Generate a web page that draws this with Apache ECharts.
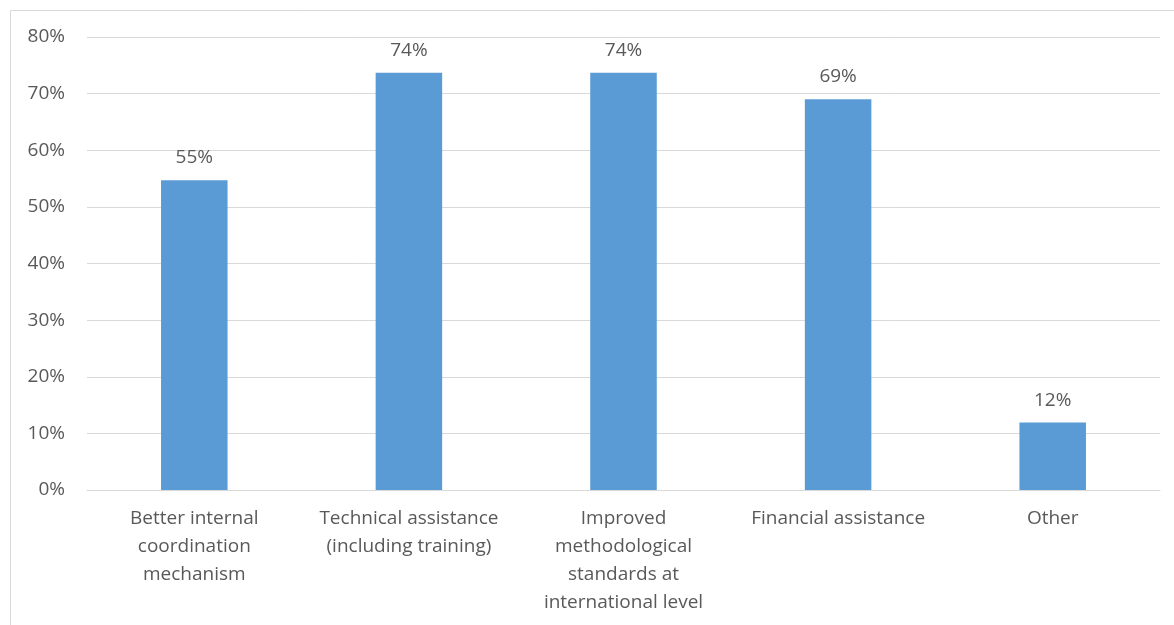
<!DOCTYPE html>
<html><head><meta charset="utf-8">
<script src="https://cdn.jsdelivr.net/npm/echarts@6/dist/echarts.min.js"></script>
<style>html,body{margin:0;padding:0;background:#fff}#c{width:1174px;height:625px}</style>
</head><body><div id="c"></div>
<script>
var categories = ["Better internal\ncoordination\nmechanism", "Technical assistance\n(including training)", "Improved\nmethodological\nstandards at\ninternational level", "Financial assistance", "Other"];
var values = [54.7, 73.7, 73.7, 69.0, 11.9];
var yTicks = [0, 10, 20, 30, 40, 50, 60, 70, 80];

var chart = echarts.init(document.getElementById('c'));
var txt = '#595959';
var font = '"Open Sans", "Liberation Sans", sans-serif';
chart.setOption({
  animation: false,
  graphic: [{type:'rect', shape:{x:10.5, y:10.5, width:1200, height:700}, style:{fill:'none', stroke:'#d9d9d9', lineWidth:1}, silent:true}],
  grid: {left: 87, right: 14, top: 37, bottom: 135, containLabel: false},
  xAxis: {
    type: 'category', data: categories,
    axisLine: {lineStyle: {color: '#d9d9d9', width: 1}},
    axisTick: {show: false},
    axisLabel: {color: txt, fontFamily: font, fontSize: 19, lineHeight: 28, margin: 15, interval: 0}
  },
  yAxis: {
    type: 'value', min: yTicks[0], max: yTicks[yTicks.length-1], interval: 10,
    axisLine: {show: false}, axisTick: {show: false},
    splitLine: {lineStyle: {color: '#d9d9d9', width: 1}},
    axisLabel: {color: txt, fontFamily: font, fontSize: 19, margin: 22, formatter: function(v){return v + '%';}}
  },
  series: [{
    type: 'bar', data: values, barWidth: '31%',
    itemStyle: {color: '#5b9bd5'},
    label: {show: true, position: 'top', distance: 13, color: txt, fontFamily: font, fontSize: 19,
      formatter: function(p){return Math.round(p.value) + '%';}}
  }]
});
</script></body></html>
